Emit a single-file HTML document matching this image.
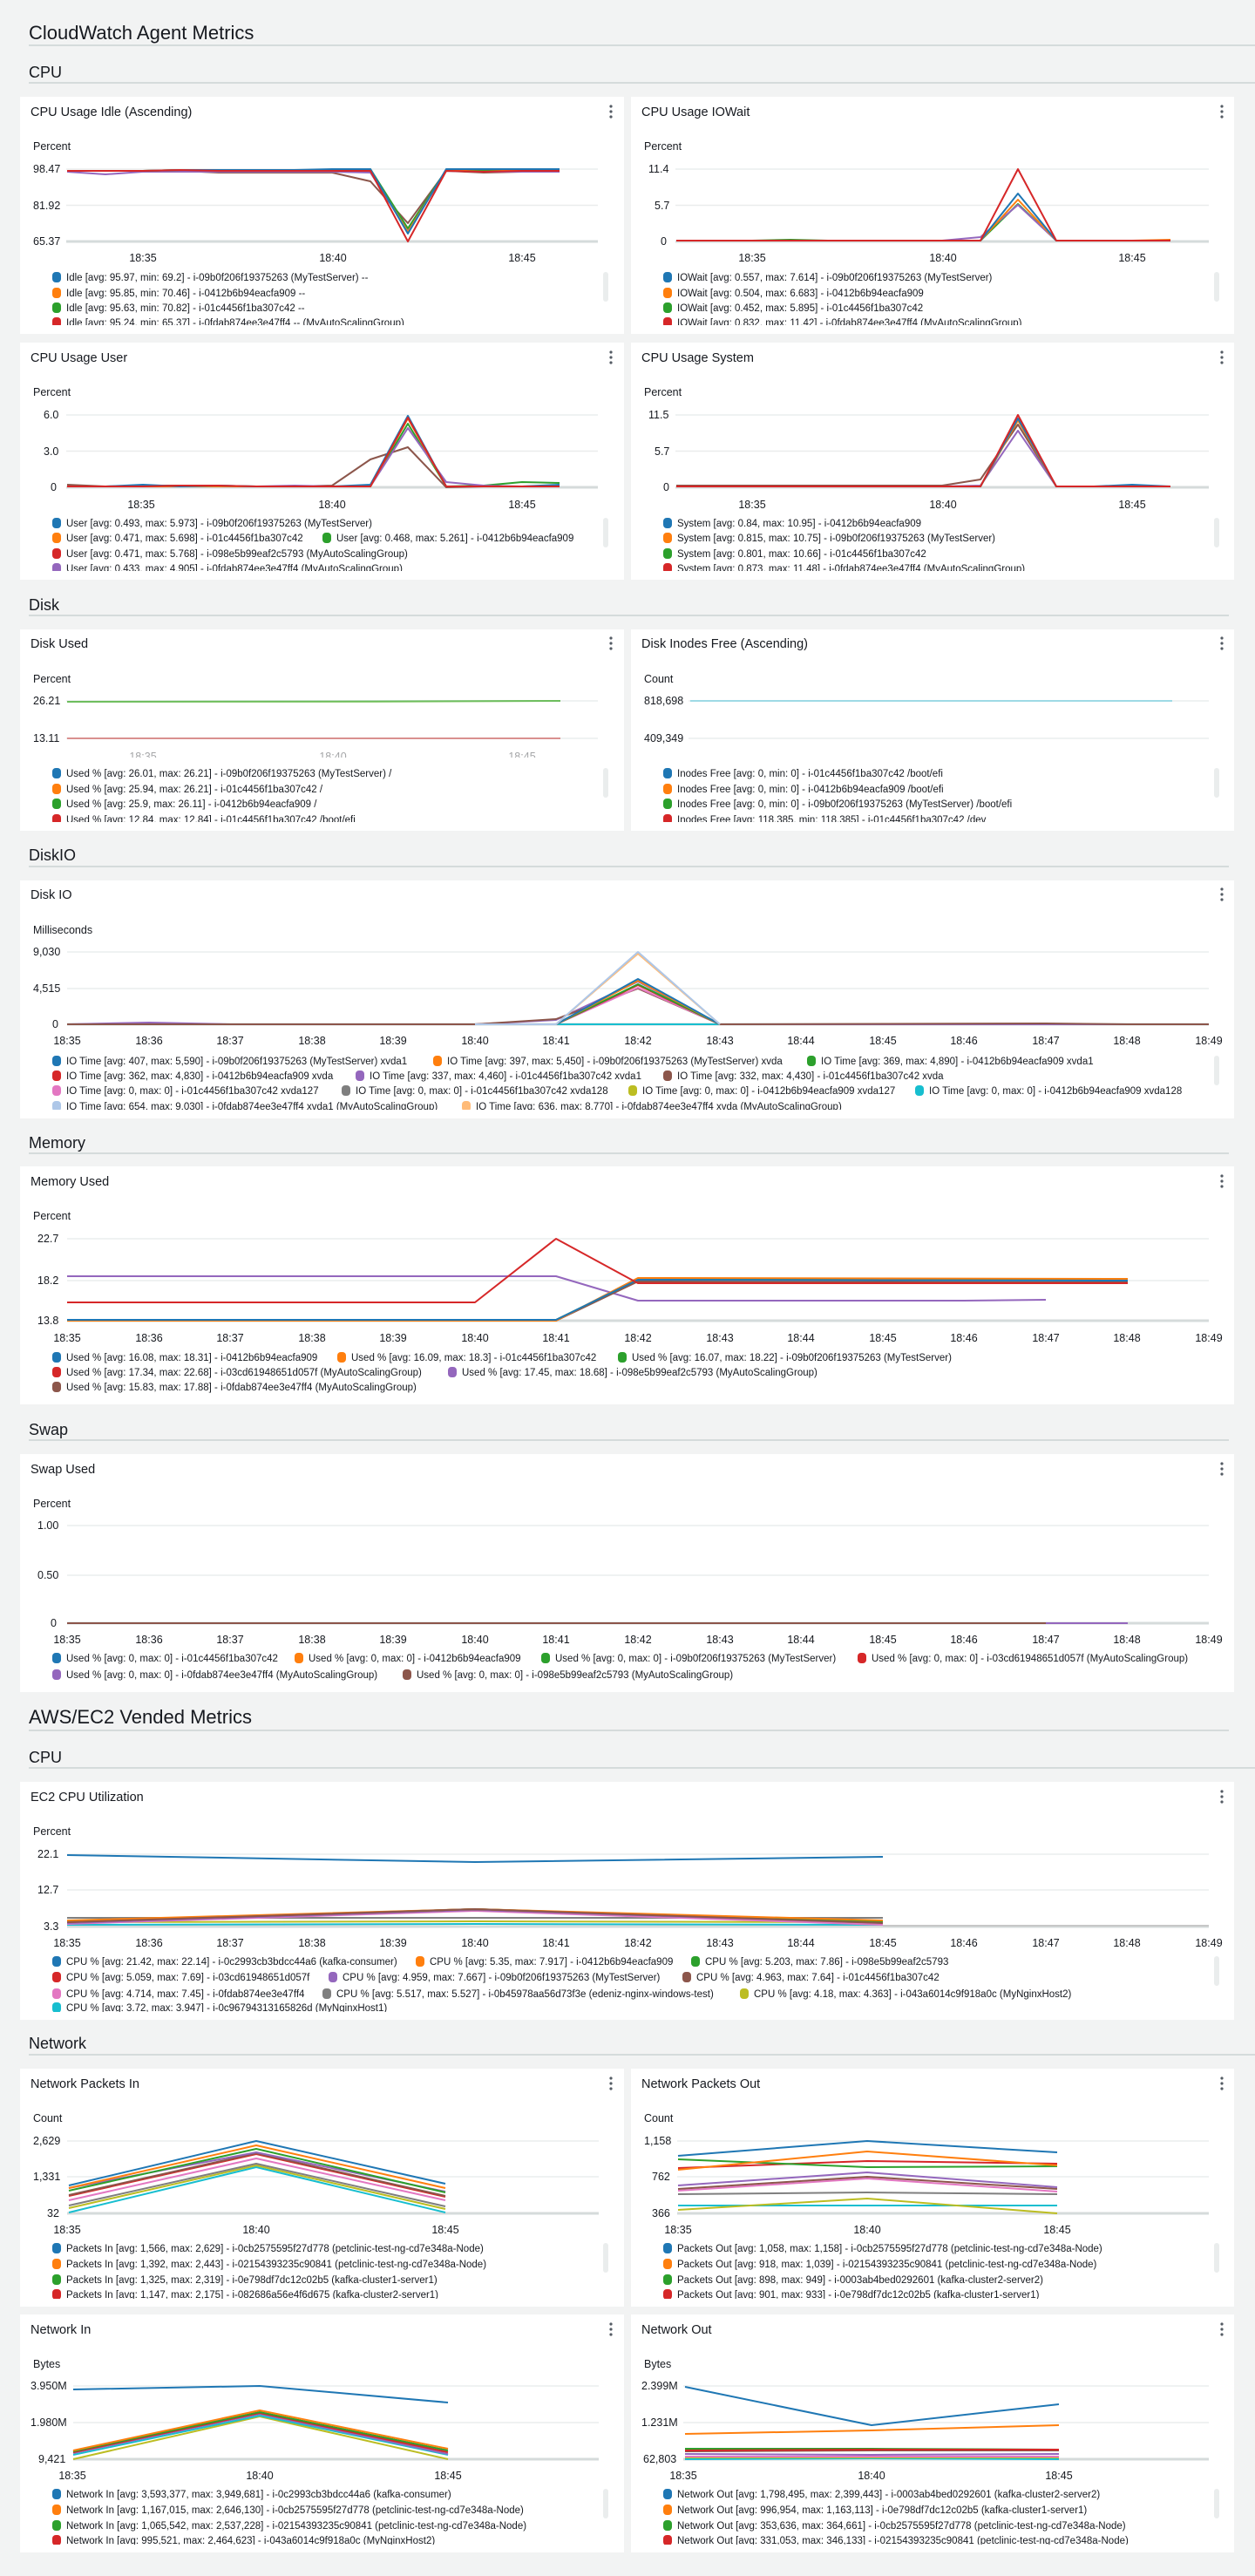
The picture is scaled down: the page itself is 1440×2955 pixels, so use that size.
<!DOCTYPE html>
<html><head><meta charset="utf-8"><style>
html,body{margin:0;padding:0;background:#f2f3f3;}
svg{display:block;font-family:"Liberation Sans",sans-serif;}
.h1{font-size:22px;fill:#16191f}
.h2{font-size:18px;fill:#16191f}
.pt{font-size:14.5px;fill:#16191f}
.u{font-size:12.5px;fill:#16191f}
.ax{font-size:12.5px;fill:#16191f}
.lg{font-size:11.5px;fill:#16191f}
.g{stroke:#eaeded;stroke-width:1.5}
.ba{stroke:#d5dbdb;stroke-width:3}
.sl{stroke:#d5dbdb;stroke-width:2}
polyline{fill:none;stroke-width:2;stroke-linejoin:round}
.dots{fill:#545b64}
</style></head><body>
<svg width="1440" height="2955" viewBox="0 0 1440 2955" xmlns="http://www.w3.org/2000/svg">
<rect width="1440" height="2955" fill="#f2f3f3"/>
<text x="33" y="45" class="h1">CloudWatch Agent Metrics</text><line x1="33" y1="52" x2="1440" y2="52" class="sl"/>
<text x="33" y="89" class="h2">CPU</text><line x1="33" y1="95" x2="1440" y2="95" class="sl"/>
<text x="33" y="700" class="h2">Disk</text><line x1="33" y1="706" x2="1410" y2="706" class="sl"/>
<text x="33" y="987" class="h2">DiskIO</text><line x1="33" y1="994" x2="1410" y2="994" class="sl"/>
<text x="33" y="1317" class="h2">Memory</text><line x1="33" y1="1323" x2="1410" y2="1323" class="sl"/>
<text x="33" y="1646" class="h2">Swap</text><line x1="33" y1="1652" x2="1410" y2="1652" class="sl"/>
<text x="33" y="1977" class="h1">AWS/EC2 Vended Metrics</text><line x1="33" y1="1985" x2="1410" y2="1985" class="sl"/>
<text x="33" y="2022" class="h2">CPU</text><line x1="33" y1="2028" x2="1440" y2="2028" class="sl"/>
<text x="33" y="2350" class="h2">Network</text><line x1="33" y1="2357" x2="1440" y2="2357" class="sl"/>

<svg x="23" y="111" width="693" height="272" viewBox="23 111 693 272">
<rect x="23" y="111" width="693" height="272" fill="#fff"/>
<text x="35" y="133" class="pt">CPU Usage Idle (Ascending)</text>
<circle cx="701" cy="122" r="1.6" class="dots"/><circle cx="701" cy="128" r="1.6" class="dots"/><circle cx="701" cy="134" r="1.6" class="dots"/>
<text x="38" y="172" class="u">Percent</text>
<line x1="76" y1="194" x2="686" y2="194" class="g"/><line x1="76" y1="235.5" x2="686" y2="235.5" class="g"/><line x1="76" y1="277" x2="686" y2="277" class="ba"/>
<text x="38" y="198" class="ax">98.47</text><text x="38" y="240" class="ax">81.92</text><text x="38" y="281" class="ax">65.37</text>
<text x="164" y="300" class="ax" text-anchor="middle">18:35</text><text x="382" y="300" class="ax" text-anchor="middle">18:40</text><text x="599" y="300" class="ax" text-anchor="middle">18:45</text>
<polyline stroke="#8c564b" points="77,196 121,196 164,196 207,196 251,198 294,198 338,198 381,198 425,208 468,256 512,196 555,198 599,197 642,196"/>
<polyline stroke="#9467bd" points="77,197 121,200 164,197 207,197 251,197 294,197 338,197 381,197 425,198 468,265 512,196 555,197 599,197 642,197"/>
<polyline stroke="#2ca02c" points="77,196 121,196 164,196 207,195 251,195 294,196 338,196 381,196 425,194 468,262 512,195 555,196 599,196 642,196"/>
<polyline stroke="#ff7f0e" points="77,196 121,196 164,196 207,195 251,195 294,196 338,196 381,196 425,196 468,266 512,195 555,194 599,195 642,195"/>
<polyline stroke="#1f77b4" points="77,196 121,196 164,196 207,195 251,195 294,195 338,195 381,194 425,194 468,268 512,194 555,194 599,194 642,194"/>
<polyline stroke="#d62728" points="77,196 121,196 164,196 207,195 251,196 294,196 338,196 381,196 425,196 468,277 512,196 555,197 599,196 642,196"/>
<rect x="692" y="312" width="6" height="34" rx="3" fill="#eaeded"/>
<rect x="60" y="312" width="10" height="12" rx="4" fill="#1f77b4"/><text x="76" y="322" class="lg">Idle [avg: 95.97, min: 69.2] - i-09b0f206f19375263 (MyTestServer) --</text>
<rect x="60" y="330" width="10" height="12" rx="4" fill="#ff7f0e"/><text x="76" y="340" class="lg">Idle [avg: 95.85, min: 70.46] - i-0412b6b94eacfa909 --</text>
<rect x="60" y="347" width="10" height="12" rx="4" fill="#2ca02c"/><text x="76" y="357" class="lg">Idle [avg: 95.63, min: 70.82] - i-01c4456f1ba307c42 --</text>
<rect x="60" y="364" width="10" height="12" rx="4" fill="#d62728"/><text x="76" y="374" class="lg">Idle [avg: 95.24, min: 65.37] - i-0fdab874ee3e47ff4 -- (MyAutoScalingGroup)</text>
<rect x="23" y="373" width="693" height="10" fill="#fff"/>
</svg>

<svg x="724" y="111" width="692" height="272" viewBox="724 111 692 272">
<rect x="724" y="111" width="692" height="272" fill="#fff"/>
<text x="736" y="133" class="pt">CPU Usage IOWait</text>
<circle cx="1402" cy="122" r="1.6" class="dots"/><circle cx="1402" cy="128" r="1.6" class="dots"/><circle cx="1402" cy="134" r="1.6" class="dots"/>
<text x="739" y="172" class="u">Percent</text>
<line x1="775" y1="194" x2="1387" y2="194" class="g"/><line x1="775" y1="235.5" x2="1387" y2="235.5" class="g"/><line x1="775" y1="277" x2="1387" y2="277" class="ba"/>
<text x="744" y="198" class="ax">11.4</text><text x="751" y="240" class="ax">5.7</text><text x="758" y="281" class="ax">0</text>
<text x="863" y="300" class="ax" text-anchor="middle">18:35</text><text x="1082" y="300" class="ax" text-anchor="middle">18:40</text><text x="1299" y="300" class="ax" text-anchor="middle">18:45</text>
<polyline stroke="#2ca02c" points="776,276 819,276 863,276 907,275 950,276 994,276 1037,276 1081,276 1125,276 1168,234 1212,276 1255,276 1299,276 1343,276"/>
<polyline stroke="#9467bd" points="776,276 819,276 863,276 907,276 950,276 994,276 1037,276 1081,276 1125,272 1168,235 1212,276 1255,276 1299,276 1343,276"/>
<polyline stroke="#ff7f0e" points="776,276 819,276 863,276 907,276 950,276 994,276 1037,276 1081,276 1125,276 1168,229 1212,276 1255,276 1299,276 1343,275"/>
<polyline stroke="#1f77b4" points="776,276 819,276 863,276 907,276 950,276 994,276 1037,276 1081,276 1125,276 1168,222 1212,276 1255,276 1299,276 1343,276"/>
<polyline stroke="#d62728" points="776,276 819,276 863,276 907,276 950,276 994,276 1037,276 1081,276 1125,276 1168,194 1212,276 1255,276 1299,276 1343,276"/>
<rect x="1393" y="312" width="6" height="34" rx="3" fill="#eaeded"/>
<rect x="761" y="312" width="10" height="12" rx="4" fill="#1f77b4"/><text x="777" y="322" class="lg">IOWait [avg: 0.557, max: 7.614] - i-09b0f206f19375263 (MyTestServer)</text>
<rect x="761" y="330" width="10" height="12" rx="4" fill="#ff7f0e"/><text x="777" y="340" class="lg">IOWait [avg: 0.504, max: 6.683] - i-0412b6b94eacfa909</text>
<rect x="761" y="347" width="10" height="12" rx="4" fill="#2ca02c"/><text x="777" y="357" class="lg">IOWait [avg: 0.452, max: 5.895] - i-01c4456f1ba307c42</text>
<rect x="761" y="364" width="10" height="12" rx="4" fill="#d62728"/><text x="777" y="374" class="lg">IOWait [avg: 0.832, max: 11.42] - i-0fdab874ee3e47ff4 (MyAutoScalingGroup)</text>
<rect x="724" y="373" width="692" height="10" fill="#fff"/>
</svg>

<svg x="23" y="393" width="693" height="272" viewBox="23 393 693 272">
<rect x="23" y="393" width="693" height="272" fill="#fff"/>
<text x="35" y="415" class="pt">CPU Usage User</text>
<circle cx="701" cy="404" r="1.6" class="dots"/><circle cx="701" cy="410" r="1.6" class="dots"/><circle cx="701" cy="416" r="1.6" class="dots"/>
<text x="38" y="454" class="u">Percent</text>
<line x1="76" y1="476" x2="686" y2="476" class="g"/><line x1="76" y1="517.5" x2="686" y2="517.5" class="g"/><line x1="76" y1="559" x2="686" y2="559" class="ba"/>
<text x="50" y="480" class="ax">6.0</text><text x="50" y="522" class="ax">3.0</text><text x="58" y="563" class="ax">0</text>
<text x="162" y="583" class="ax" text-anchor="middle">18:35</text><text x="381" y="583" class="ax" text-anchor="middle">18:40</text><text x="599" y="583" class="ax" text-anchor="middle">18:45</text>
<polyline stroke="#8c564b" points="77,556 121,558 164,557 207,557 251,557 294,558 338,558 381,557 425,527 468,513 512,559 555,558 599,558 642,558"/>
<polyline stroke="#2ca02c" points="77,558 121,558 164,558 207,558 251,558 294,558 338,558 381,558 425,558 468,486 512,558 555,557 599,553 642,554"/>
<polyline stroke="#9467bd" points="77,558 121,558 164,558 207,558 251,558 294,558 338,557 381,558 425,558 468,491 512,553 555,557 599,558 642,557"/>
<polyline stroke="#ff7f0e" points="77,558 121,558 164,558 207,558 251,558 294,558 338,558 381,558 425,558 468,480 512,558 555,558 599,558 642,558"/>
<polyline stroke="#1f77b4" points="77,558 121,558 164,556 207,558 251,557 294,558 338,558 381,558 425,556 468,477 512,558 555,558 599,558 642,556"/>
<polyline stroke="#d62728" points="77,558 121,558 164,558 207,557 251,557 294,558 338,558 381,558 425,558 468,479 512,558 555,558 599,558 642,558"/>
<rect x="692" y="594" width="6" height="34" rx="3" fill="#eaeded"/>
<rect x="60" y="594" width="10" height="12" rx="4" fill="#1f77b4"/><text x="76" y="604" class="lg">User [avg: 0.493, max: 5.973] - i-09b0f206f19375263 (MyTestServer)</text>
<rect x="60" y="611" width="10" height="12" rx="4" fill="#ff7f0e"/><text x="76" y="621" class="lg">User [avg: 0.471, max: 5.698] - i-01c4456f1ba307c42</text>
<rect x="370" y="611" width="10" height="12" rx="4" fill="#2ca02c"/><text x="386" y="621" class="lg">User [avg: 0.468, max: 5.261] - i-0412b6b94eacfa909</text>
<rect x="60" y="629" width="10" height="12" rx="4" fill="#d62728"/><text x="76" y="639" class="lg">User [avg: 0.471, max: 5.768] - i-098e5b99eaf2c5793 (MyAutoScalingGroup)</text>
<rect x="60" y="646" width="10" height="12" rx="4" fill="#9467bd"/><text x="76" y="656" class="lg">User [avg: 0.433, max: 4.905] - i-0fdab874ee3e47ff4 (MyAutoScalingGroup)</text>
<rect x="23" y="655" width="693" height="10" fill="#fff"/>
</svg>

<svg x="724" y="393" width="692" height="272" viewBox="724 393 692 272">
<rect x="724" y="393" width="692" height="272" fill="#fff"/>
<text x="736" y="415" class="pt">CPU Usage System</text>
<circle cx="1402" cy="404" r="1.6" class="dots"/><circle cx="1402" cy="410" r="1.6" class="dots"/><circle cx="1402" cy="416" r="1.6" class="dots"/>
<text x="739" y="454" class="u">Percent</text>
<line x1="775" y1="476" x2="1387" y2="476" class="g"/><line x1="775" y1="517.5" x2="1387" y2="517.5" class="g"/><line x1="775" y1="559" x2="1387" y2="559" class="ba"/>
<text x="744" y="480" class="ax">11.5</text><text x="751" y="522" class="ax">5.7</text><text x="761" y="563" class="ax">0</text>
<text x="863" y="583" class="ax" text-anchor="middle">18:35</text><text x="1082" y="583" class="ax" text-anchor="middle">18:40</text><text x="1299" y="583" class="ax" text-anchor="middle">18:45</text>
<polyline stroke="#8c564b" points="776,557 819,557 863,557 907,557 950,557 994,557 1037,557 1081,557 1125,550 1168,487 1212,558 1255,558 1299,558 1343,558"/>
<polyline stroke="#9467bd" points="776,558 819,558 863,558 907,558 950,558 994,558 1037,558 1081,558 1125,557 1168,494 1212,558 1255,558 1299,558 1343,558"/>
<polyline stroke="#2ca02c" points="776,558 819,558 863,558 907,558 950,558 994,558 1037,558 1081,558 1125,558 1168,482 1212,558 1255,558 1299,558 1343,558"/>
<polyline stroke="#ff7f0e" points="776,558 819,558 863,558 907,558 950,558 994,558 1037,558 1081,558 1125,558 1168,482 1212,558 1255,558 1299,558 1343,558"/>
<polyline stroke="#1f77b4" points="776,558 819,558 863,558 907,558 950,558 994,558 1037,558 1081,558 1125,558 1168,480 1212,558 1255,558 1299,556 1343,558"/>
<polyline stroke="#d62728" points="776,558 819,558 863,558 907,558 950,558 994,558 1037,558 1081,558 1125,558 1168,476 1212,558 1255,558 1299,558 1343,558"/>
<rect x="1393" y="594" width="6" height="34" rx="3" fill="#eaeded"/>
<rect x="761" y="594" width="10" height="12" rx="4" fill="#1f77b4"/><text x="777" y="604" class="lg">System [avg: 0.84, max: 10.95] - i-0412b6b94eacfa909</text>
<rect x="761" y="611" width="10" height="12" rx="4" fill="#ff7f0e"/><text x="777" y="621" class="lg">System [avg: 0.815, max: 10.75] - i-09b0f206f19375263 (MyTestServer)</text>
<rect x="761" y="629" width="10" height="12" rx="4" fill="#2ca02c"/><text x="777" y="639" class="lg">System [avg: 0.801, max: 10.66] - i-01c4456f1ba307c42</text>
<rect x="761" y="646" width="10" height="12" rx="4" fill="#d62728"/><text x="777" y="656" class="lg">System [avg: 0.873, max: 11.48] - i-0fdab874ee3e47ff4 (MyAutoScalingGroup)</text>
<rect x="724" y="655" width="692" height="10" fill="#fff"/>
</svg>

<svg x="23" y="722" width="693" height="231" viewBox="23 722 693 231">
<rect x="23" y="722" width="693" height="231" fill="#fff"/>
<text x="35" y="743" class="pt">Disk Used</text>
<circle cx="701" cy="732" r="1.6" class="dots"/><circle cx="701" cy="738" r="1.6" class="dots"/><circle cx="701" cy="744" r="1.6" class="dots"/>
<text x="38" y="783" class="u">Percent</text>
<line x1="76" y1="804" x2="686" y2="804" class="g"/><line x1="76" y1="847" x2="686" y2="847" class="g"/>
<text x="38" y="808" class="ax">26.21</text><text x="38" y="851" class="ax">13.11</text>
<polyline stroke="#aedb8f" points="77,805 430,805 643,804"/>
<polyline stroke="#2ca02c" stroke-opacity="0.5" points="77,805 643,804"/>
<polyline stroke="#d9908f" points="77,847 643,847"/>
<text x="164" y="872" class="ax" text-anchor="middle" fill-opacity="0.4">18:35</text><text x="382" y="872" class="ax" text-anchor="middle" fill-opacity="0.4">18:40</text><text x="599" y="872" class="ax" text-anchor="middle" fill-opacity="0.4">18:45</text>
<rect x="23" y="869" width="693" height="12" fill="#fff"/>
<rect x="692" y="881" width="6" height="34" rx="3" fill="#eaeded"/>
<rect x="60" y="881" width="10" height="12" rx="4" fill="#1f77b4"/><text x="76" y="891" class="lg">Used % [avg: 26.01, max: 26.21] - i-09b0f206f19375263 (MyTestServer) /</text>
<rect x="60" y="899" width="10" height="12" rx="4" fill="#ff7f0e"/><text x="76" y="909" class="lg">Used % [avg: 25.94, max: 26.21] - i-01c4456f1ba307c42 /</text>
<rect x="60" y="916" width="10" height="12" rx="4" fill="#2ca02c"/><text x="76" y="926" class="lg">Used % [avg: 25.9, max: 26.11] - i-0412b6b94eacfa909 /</text>
<rect x="60" y="934" width="10" height="12" rx="4" fill="#d62728"/><text x="76" y="944" class="lg">Used % [avg: 12.84, max: 12.84] - i-01c4456f1ba307c42 /boot/efi</text>
<rect x="23" y="943" width="693" height="10" fill="#fff"/>
</svg>

<svg x="724" y="722" width="692" height="231" viewBox="724 722 692 231">
<rect x="724" y="722" width="692" height="231" fill="#fff"/>
<text x="736" y="743" class="pt">Disk Inodes Free (Ascending)</text>
<circle cx="1402" cy="732" r="1.6" class="dots"/><circle cx="1402" cy="738" r="1.6" class="dots"/><circle cx="1402" cy="744" r="1.6" class="dots"/>
<text x="739" y="783" class="u">Count</text>
<line x1="790" y1="804" x2="1387" y2="804" class="g"/><line x1="790" y1="847" x2="1387" y2="847" class="g"/>
<text x="739" y="808" class="ax">818,698</text><text x="739" y="851" class="ax">409,349</text>
<polyline stroke="#9edae5" stroke-width="3" points="792,804 1345,804"/>
<rect x="1393" y="881" width="6" height="34" rx="3" fill="#eaeded"/>
<rect x="761" y="881" width="10" height="12" rx="4" fill="#1f77b4"/><text x="777" y="891" class="lg">Inodes Free [avg: 0, min: 0] - i-01c4456f1ba307c42 /boot/efi</text>
<rect x="761" y="899" width="10" height="12" rx="4" fill="#ff7f0e"/><text x="777" y="909" class="lg">Inodes Free [avg: 0, min: 0] - i-0412b6b94eacfa909 /boot/efi</text>
<rect x="761" y="916" width="10" height="12" rx="4" fill="#2ca02c"/><text x="777" y="926" class="lg">Inodes Free [avg: 0, min: 0] - i-09b0f206f19375263 (MyTestServer) /boot/efi</text>
<rect x="761" y="934" width="10" height="12" rx="4" fill="#d62728"/><text x="777" y="944" class="lg">Inodes Free [avg: 118,385, min: 118,385] - i-01c4456f1ba307c42 /dev</text>
<rect x="724" y="943" width="692" height="10" fill="#fff"/>
</svg>

<svg x="23" y="1010" width="1393" height="273" viewBox="23 1010 1393 273">
<rect x="23" y="1010" width="1393" height="273" fill="#fff"/>
<text x="35" y="1031" class="pt">Disk IO</text>
<circle cx="1402" cy="1020" r="1.6" class="dots"/><circle cx="1402" cy="1026" r="1.6" class="dots"/><circle cx="1402" cy="1032" r="1.6" class="dots"/>
<text x="38" y="1071" class="u">Milliseconds</text>
<line x1="77" y1="1092" x2="1387" y2="1092" class="g"/><line x1="77" y1="1134" x2="1387" y2="1134" class="g"/><line x1="77" y1="1175" x2="1387" y2="1175" class="ba"/>
<text x="38" y="1096" class="ax">9,030</text><text x="38" y="1138" class="ax">4,515</text><text x="60" y="1179" class="ax">0</text>
<g class="ax" text-anchor="middle">
<text x="77" y="1198">18:35</text><text x="171" y="1198">18:36</text><text x="264" y="1198">18:37</text><text x="358" y="1198">18:38</text><text x="451" y="1198">18:39</text><text x="545" y="1198">18:40</text><text x="638" y="1198">18:41</text><text x="732" y="1198">18:42</text><text x="826" y="1198">18:43</text><text x="919" y="1198">18:44</text><text x="1013" y="1198">18:45</text><text x="1106" y="1198">18:46</text><text x="1200" y="1198">18:47</text><text x="1293" y="1198">18:48</text><text x="1387" y="1198">18:49</text>
</g>
<polyline stroke="#17becf" points="77,1175 1294,1175"/>
<polyline stroke="#9467bd" points="77,1175 171,1173 264,1175 545,1175 638,1170 732,1126 826,1175 1294,1175"/>
<polyline stroke="#8c564b" points="77,1175 545,1175 638,1169 732,1134 826,1175 1200,1174 1294,1175 1387,1175"/>
<polyline stroke="#e377c2" points="545,1175 638,1175 732,1133 826,1175"/>
<polyline stroke="#d62728" points="545,1175 638,1175 732,1130 826,1175"/>
<polyline stroke="#2ca02c" points="545,1175 638,1175 732,1129 826,1175"/>
<polyline stroke="#ff7f0e" points="545,1175 638,1175 732,1125 826,1175"/>
<polyline stroke="#1f77b4" points="545,1175 638,1175 732,1123 826,1175"/>
<polyline stroke="#ffbb78" points="545,1175 638,1175 732,1094 826,1175"/>
<polyline stroke="#aec7e8" points="545,1175 638,1175 732,1092 826,1175"/>
<rect x="1393" y="1211" width="6" height="34" rx="3" fill="#eaeded"/>
<rect x="60" y="1211" width="10" height="12" rx="4" fill="#1f77b4"/><text x="76" y="1221" class="lg">IO Time [avg: 407, max: 5,590] - i-09b0f206f19375263 (MyTestServer) xvda1</text>
<rect x="497" y="1211" width="10" height="12" rx="4" fill="#ff7f0e"/><text x="513" y="1221" class="lg">IO Time [avg: 397, max: 5,450] - i-09b0f206f19375263 (MyTestServer) xvda</text>
<rect x="926" y="1211" width="10" height="12" rx="4" fill="#2ca02c"/><text x="942" y="1221" class="lg">IO Time [avg: 369, max: 4,890] - i-0412b6b94eacfa909 xvda1</text>
<rect x="60" y="1228" width="10" height="12" rx="4" fill="#d62728"/><text x="76" y="1238" class="lg">IO Time [avg: 362, max: 4,830] - i-0412b6b94eacfa909 xvda</text>
<rect x="408" y="1228" width="10" height="12" rx="4" fill="#9467bd"/><text x="424" y="1238" class="lg">IO Time [avg: 337, max: 4,460] - i-01c4456f1ba307c42 xvda1</text>
<rect x="761" y="1228" width="10" height="12" rx="4" fill="#8c564b"/><text x="777" y="1238" class="lg">IO Time [avg: 332, max: 4,430] - i-01c4456f1ba307c42 xvda</text>
<rect x="60" y="1245" width="10" height="12" rx="4" fill="#e377c2"/><text x="76" y="1255" class="lg">IO Time [avg: 0, max: 0] - i-01c4456f1ba307c42 xvda127</text>
<rect x="392" y="1245" width="10" height="12" rx="4" fill="#7f7f7f"/><text x="408" y="1255" class="lg">IO Time [avg: 0, max: 0] - i-01c4456f1ba307c42 xvda128</text>
<rect x="721" y="1245" width="10" height="12" rx="4" fill="#bcbd22"/><text x="737" y="1255" class="lg">IO Time [avg: 0, max: 0] - i-0412b6b94eacfa909 xvda127</text>
<rect x="1050" y="1245" width="10" height="12" rx="4" fill="#17becf"/><text x="1066" y="1255" class="lg">IO Time [avg: 0, max: 0] - i-0412b6b94eacfa909 xvda128</text>
<rect x="60" y="1263" width="10" height="12" rx="4" fill="#aec7e8"/><text x="76" y="1273" class="lg">IO Time [avg: 654, max: 9,030] - i-0fdab874ee3e47ff4 xvda1 (MyAutoScalingGroup)</text>
<rect x="530" y="1263" width="10" height="12" rx="4" fill="#ffbb78"/><text x="546" y="1273" class="lg">IO Time [avg: 636, max: 8,770] - i-0fdab874ee3e47ff4 xvda (MyAutoScalingGroup)</text>
<rect x="23" y="1273" width="1393" height="10" fill="#fff"/>
</svg>

<svg x="23" y="1338" width="1393" height="273" viewBox="23 1338 1393 273">
<rect x="23" y="1338" width="1393" height="273" fill="#fff"/>
<text x="35" y="1360" class="pt">Memory Used</text>
<circle cx="1402" cy="1349" r="1.6" class="dots"/><circle cx="1402" cy="1355" r="1.6" class="dots"/><circle cx="1402" cy="1361" r="1.6" class="dots"/>
<text x="38" y="1399" class="u">Percent</text>
<line x1="77" y1="1421" x2="1387" y2="1421" class="g"/><line x1="77" y1="1469" x2="1387" y2="1469" class="g"/><line x1="77" y1="1515" x2="1387" y2="1515" class="ba"/>
<text x="43" y="1425" class="ax">22.7</text><text x="43" y="1473" class="ax">18.2</text><text x="43" y="1519" class="ax">13.8</text>
<g class="ax" text-anchor="middle">
<text x="77" y="1539">18:35</text><text x="171" y="1539">18:36</text><text x="264" y="1539">18:37</text><text x="358" y="1539">18:38</text><text x="451" y="1539">18:39</text><text x="545" y="1539">18:40</text><text x="638" y="1539">18:41</text><text x="732" y="1539">18:42</text><text x="826" y="1539">18:43</text><text x="919" y="1539">18:44</text><text x="1013" y="1539">18:45</text><text x="1106" y="1539">18:46</text><text x="1200" y="1539">18:47</text><text x="1293" y="1539">18:48</text><text x="1387" y="1539">18:49</text>
</g>
<polyline stroke="#9467bd" points="77,1464 638,1464 732,1492 1106,1492 1200,1491"/>
<polyline stroke="#8c564b" points="77,1515 638,1515 732,1470 1294,1471"/>
<polyline stroke="#2ca02c" points="77,1514 638,1514 732,1468 1294,1468"/>
<polyline stroke="#ff7f0e" points="77,1515 638,1515 732,1466 1294,1467"/>
<polyline stroke="#1f77b4" points="77,1514 638,1514 732,1468 1294,1469"/>
<polyline stroke="#d62728" points="77,1494 545,1494 638,1421 732,1472 1294,1472"/>
<rect x="60" y="1551" width="10" height="12" rx="4" fill="#1f77b4"/><text x="76" y="1561" class="lg">Used % [avg: 16.08, max: 18.31] - i-0412b6b94eacfa909</text>
<rect x="387" y="1551" width="10" height="12" rx="4" fill="#ff7f0e"/><text x="403" y="1561" class="lg">Used % [avg: 16.09, max: 18.3] - i-01c4456f1ba307c42</text>
<rect x="709" y="1551" width="10" height="12" rx="4" fill="#2ca02c"/><text x="725" y="1561" class="lg">Used % [avg: 16.07, max: 18.22] - i-09b0f206f19375263 (MyTestServer)</text>
<rect x="60" y="1568" width="10" height="12" rx="4" fill="#d62728"/><text x="76" y="1578" class="lg">Used % [avg: 17.34, max: 22.68] - i-03cd61948651d057f (MyAutoScalingGroup)</text>
<rect x="514" y="1568" width="10" height="12" rx="4" fill="#9467bd"/><text x="530" y="1578" class="lg">Used % [avg: 17.45, max: 18.68] - i-098e5b99eaf2c5793 (MyAutoScalingGroup)</text>
<rect x="60" y="1585" width="10" height="12" rx="4" fill="#8c564b"/><text x="76" y="1595" class="lg">Used % [avg: 15.83, max: 17.88] - i-0fdab874ee3e47ff4 (MyAutoScalingGroup)</text>
</svg>

<svg x="23" y="1668" width="1393" height="273" viewBox="23 1668 1393 273">
<rect x="23" y="1668" width="1393" height="273" fill="#fff"/>
<text x="35" y="1690" class="pt">Swap Used</text>
<circle cx="1402" cy="1679" r="1.6" class="dots"/><circle cx="1402" cy="1685" r="1.6" class="dots"/><circle cx="1402" cy="1691" r="1.6" class="dots"/>
<text x="38" y="1729" class="u">Percent</text>
<line x1="77" y1="1750" x2="1387" y2="1750" class="g"/><line x1="77" y1="1807" x2="1387" y2="1807" class="g"/><line x1="77" y1="1862" x2="1387" y2="1862" class="ba"/>
<text x="43" y="1754" class="ax">1.00</text><text x="43" y="1811" class="ax">0.50</text><text x="58" y="1866" class="ax">0</text>
<g class="ax" text-anchor="middle">
<text x="77" y="1885">18:35</text><text x="171" y="1885">18:36</text><text x="264" y="1885">18:37</text><text x="358" y="1885">18:38</text><text x="451" y="1885">18:39</text><text x="545" y="1885">18:40</text><text x="638" y="1885">18:41</text><text x="732" y="1885">18:42</text><text x="826" y="1885">18:43</text><text x="919" y="1885">18:44</text><text x="1013" y="1885">18:45</text><text x="1106" y="1885">18:46</text><text x="1200" y="1885">18:47</text><text x="1293" y="1885">18:48</text><text x="1387" y="1885">18:49</text>
</g>
<polyline stroke="#9467bd" points="1200,1862 1294,1862"/>
<polyline stroke="#8c564b" points="77,1862 1200,1862"/>
<rect x="60" y="1896" width="10" height="12" rx="4" fill="#1f77b4"/><text x="76" y="1906" class="lg">Used % [avg: 0, max: 0] - i-01c4456f1ba307c42</text>
<rect x="338" y="1896" width="10" height="12" rx="4" fill="#ff7f0e"/><text x="354" y="1906" class="lg">Used % [avg: 0, max: 0] - i-0412b6b94eacfa909</text>
<rect x="621" y="1896" width="10" height="12" rx="4" fill="#2ca02c"/><text x="637" y="1906" class="lg">Used % [avg: 0, max: 0] - i-09b0f206f19375263 (MyTestServer)</text>
<rect x="984" y="1896" width="10" height="12" rx="4" fill="#d62728"/><text x="1000" y="1906" class="lg">Used % [avg: 0, max: 0] - i-03cd61948651d057f (MyAutoScalingGroup)</text>
<rect x="60" y="1915" width="10" height="12" rx="4" fill="#9467bd"/><text x="76" y="1925" class="lg">Used % [avg: 0, max: 0] - i-0fdab874ee3e47ff4 (MyAutoScalingGroup)</text>
<rect x="462" y="1915" width="10" height="12" rx="4" fill="#8c564b"/><text x="478" y="1925" class="lg">Used % [avg: 0, max: 0] - i-098e5b99eaf2c5793 (MyAutoScalingGroup)</text>
</svg>

<svg x="23" y="2044" width="1393" height="273" viewBox="23 2044 1393 273">
<rect x="23" y="2044" width="1393" height="273" fill="#fff"/>
<text x="35" y="2066" class="pt">EC2 CPU Utilization</text>
<circle cx="1402" cy="2055" r="1.6" class="dots"/><circle cx="1402" cy="2061" r="1.6" class="dots"/><circle cx="1402" cy="2067" r="1.6" class="dots"/>
<text x="38" y="2105" class="u">Percent</text>
<line x1="77" y1="2127" x2="1387" y2="2127" class="g"/><line x1="77" y1="2168" x2="1387" y2="2168" class="g"/><line x1="77" y1="2210" x2="1387" y2="2210" class="ba"/>
<text x="43" y="2131" class="ax">22.1</text><text x="43" y="2172" class="ax">12.7</text><text x="50" y="2214" class="ax">3.3</text>
<g class="ax" text-anchor="middle">
<text x="77" y="2233">18:35</text><text x="171" y="2233">18:36</text><text x="264" y="2233">18:37</text><text x="358" y="2233">18:38</text><text x="451" y="2233">18:39</text><text x="545" y="2233">18:40</text><text x="638" y="2233">18:41</text><text x="732" y="2233">18:42</text><text x="826" y="2233">18:43</text><text x="919" y="2233">18:44</text><text x="1013" y="2233">18:45</text><text x="1106" y="2233">18:46</text><text x="1200" y="2233">18:47</text><text x="1293" y="2233">18:48</text><text x="1387" y="2233">18:49</text>
</g>
<polyline stroke="#c7c7c7" stroke-width="3" points="1013,2209 1387,2209"/>
<polyline stroke="#17becf" points="77,2208 545,2207 1013,2208"/>
<polyline stroke="#bcbd22" stroke-width="3" points="77,2205 545,2204 1013,2205"/>
<polyline stroke="#7f7f7f" points="77,2200 1013,2200"/>
<polyline stroke="#e377c2" points="77,2207 545,2192 1013,2208"/>
<polyline stroke="#9467bd" points="77,2206 545,2191 1013,2206"/>
<polyline stroke="#d62728" points="77,2205 545,2190 1013,2205"/>
<polyline stroke="#2ca02c" points="77,2204 545,2190 1013,2204"/>
<polyline stroke="#ff7f0e" points="77,2203 545,2190 1013,2203"/>
<polyline stroke="#8c564b" points="77,2205 545,2190 1013,2206"/>
<polyline stroke="#1f77b4" points="77,2128 545,2136 1013,2130"/>
<rect x="1393" y="2244" width="6" height="34" rx="3" fill="#eaeded"/>
<rect x="60" y="2244" width="10" height="12" rx="4" fill="#1f77b4"/><text x="76" y="2254" class="lg">CPU % [avg: 21.42, max: 22.14] - i-0c2993cb3bdcc44a6 (kafka-consumer)</text>
<rect x="477" y="2244" width="10" height="12" rx="4" fill="#ff7f0e"/><text x="493" y="2254" class="lg">CPU % [avg: 5.35, max: 7.917] - i-0412b6b94eacfa909</text>
<rect x="793" y="2244" width="10" height="12" rx="4" fill="#2ca02c"/><text x="809" y="2254" class="lg">CPU % [avg: 5.203, max: 7.86] - i-098e5b99eaf2c5793</text>
<rect x="60" y="2262" width="10" height="12" rx="4" fill="#d62728"/><text x="76" y="2272" class="lg">CPU % [avg: 5.059, max: 7.69] - i-03cd61948651d057f</text>
<rect x="377" y="2262" width="10" height="12" rx="4" fill="#9467bd"/><text x="393" y="2272" class="lg">CPU % [avg: 4.959, max: 7.667] - i-09b0f206f19375263 (MyTestServer)</text>
<rect x="783" y="2262" width="10" height="12" rx="4" fill="#8c564b"/><text x="799" y="2272" class="lg">CPU % [avg: 4.963, max: 7.64] - i-01c4456f1ba307c42</text>
<rect x="60" y="2281" width="10" height="12" rx="4" fill="#e377c2"/><text x="76" y="2291" class="lg">CPU % [avg: 4.714, max: 7.45] - i-0fdab874ee3e47ff4</text>
<rect x="370" y="2281" width="10" height="12" rx="4" fill="#7f7f7f"/><text x="386" y="2291" class="lg">CPU % [avg: 5.517, max: 5.527] - i-0b45978aa56d73f3e (edeniz-nginx-windows-test)</text>
<rect x="849" y="2281" width="10" height="12" rx="4" fill="#bcbd22"/><text x="865" y="2291" class="lg">CPU % [avg: 4.18, max: 4.363] - i-043a6014c9f918a0c (MyNginxHost2)</text>
<rect x="60" y="2297" width="10" height="12" rx="4" fill="#17becf"/><text x="76" y="2307" class="lg">CPU % [avg: 3.72, max: 3.947] - i-0c96794313165826d (MyNginxHost1)</text>
<rect x="23" y="2308" width="1393" height="9" fill="#fff"/>
</svg>

<svg x="23" y="2373" width="693" height="273" viewBox="23 2373 693 273">
<rect x="23" y="2373" width="693" height="273" fill="#fff"/>
<text x="35" y="2395" class="pt">Network Packets In</text>
<circle cx="701" cy="2384" r="1.6" class="dots"/><circle cx="701" cy="2390" r="1.6" class="dots"/><circle cx="701" cy="2396" r="1.6" class="dots"/>
<text x="38" y="2434" class="u">Count</text>
<line x1="77" y1="2456" x2="687" y2="2456" class="g"/><line x1="77" y1="2497" x2="687" y2="2497" class="g"/><line x1="77" y1="2539" x2="687" y2="2539" class="ba"/>
<text x="38" y="2460" class="ax">2,629</text><text x="38" y="2501" class="ax">1,331</text><text x="54" y="2543" class="ax">32</text>
<text x="77" y="2562" class="ax" text-anchor="middle">18:35</text><text x="294" y="2562" class="ax" text-anchor="middle">18:40</text><text x="511" y="2562" class="ax" text-anchor="middle">18:45</text>
<polyline stroke="#17becf" points="79,2538 294,2486 511,2538"/>
<polyline stroke="#bcbd22" points="79,2533 294,2484 511,2534"/>
<polyline stroke="#7f7f7f" points="79,2530 294,2482 511,2531"/>
<polyline stroke="#e377c2" points="79,2524 294,2476 511,2524"/>
<polyline stroke="#d62728" points="79,2519 294,2471 511,2520"/>
<polyline stroke="#8c564b" points="79,2518 294,2470 511,2519"/>
<polyline stroke="#9467bd" points="79,2510 294,2469 511,2514"/>
<polyline stroke="#2ca02c" points="79,2513 294,2465 511,2515"/>
<polyline stroke="#ff7f0e" points="79,2510 294,2461 511,2510"/>
<polyline stroke="#1f77b4" points="79,2507 294,2456 511,2505"/>
<rect x="692" y="2573" width="6" height="34" rx="3" fill="#eaeded"/>
<rect x="60" y="2573" width="10" height="12" rx="4" fill="#1f77b4"/><text x="76" y="2583" class="lg">Packets In [avg: 1,566, max: 2,629] - i-0cb2575595f27d778 (petclinic-test-ng-cd7e348a-Node)</text>
<rect x="60" y="2591" width="10" height="12" rx="4" fill="#ff7f0e"/><text x="76" y="2601" class="lg">Packets In [avg: 1,392, max: 2,443] - i-02154393235c90841 (petclinic-test-ng-cd7e348a-Node)</text>
<rect x="60" y="2609" width="10" height="12" rx="4" fill="#2ca02c"/><text x="76" y="2619" class="lg">Packets In [avg: 1,325, max: 2,319] - i-0e798df7dc12c02b5 (kafka-cluster1-server1)</text>
<rect x="60" y="2626" width="10" height="12" rx="4" fill="#d62728"/><text x="76" y="2636" class="lg">Packets In [avg: 1,147, max: 2,175] - i-082686a56e4f6d675 (kafka-cluster2-server1)</text>
<rect x="23" y="2637" width="693" height="9" fill="#fff"/>
</svg>

<svg x="724" y="2373" width="692" height="273" viewBox="724 2373 692 273">
<rect x="724" y="2373" width="692" height="273" fill="#fff"/>
<text x="736" y="2395" class="pt">Network Packets Out</text>
<circle cx="1402" cy="2384" r="1.6" class="dots"/><circle cx="1402" cy="2390" r="1.6" class="dots"/><circle cx="1402" cy="2396" r="1.6" class="dots"/>
<text x="739" y="2434" class="u">Count</text>
<line x1="777" y1="2456" x2="1387" y2="2456" class="g"/><line x1="777" y1="2497" x2="1387" y2="2497" class="g"/><line x1="777" y1="2539" x2="1387" y2="2539" class="ba"/>
<text x="739" y="2460" class="ax">1,158</text><text x="748" y="2501" class="ax">762</text><text x="748" y="2543" class="ax">366</text>
<text x="778" y="2562" class="ax" text-anchor="middle">18:35</text><text x="995" y="2562" class="ax" text-anchor="middle">18:40</text><text x="1213" y="2562" class="ax" text-anchor="middle">18:45</text>
<polyline stroke="#17becf" points="778,2530 995,2530 1213,2530"/>
<polyline stroke="#bcbd22" points="778,2535 995,2522 1213,2539"/>
<polyline stroke="#7f7f7f" points="778,2517 995,2515 1213,2517"/>
<polyline stroke="#e377c2" points="778,2513 995,2499 1213,2514"/>
<polyline stroke="#8c564b" points="778,2511 995,2497 1213,2511"/>
<polyline stroke="#9467bd" points="778,2507 995,2492 1213,2509"/>
<polyline stroke="#d62728" points="778,2487 995,2479 1213,2482"/>
<polyline stroke="#2ca02c" points="778,2477 995,2486 1213,2485"/>
<polyline stroke="#ff7f0e" points="778,2489 995,2468 1213,2484"/>
<polyline stroke="#1f77b4" points="778,2473 995,2456 1213,2469"/>
<rect x="1393" y="2573" width="6" height="34" rx="3" fill="#eaeded"/>
<rect x="761" y="2573" width="10" height="12" rx="4" fill="#1f77b4"/><text x="777" y="2583" class="lg">Packets Out [avg: 1,058, max: 1,158] - i-0cb2575595f27d778 (petclinic-test-ng-cd7e348a-Node)</text>
<rect x="761" y="2591" width="10" height="12" rx="4" fill="#ff7f0e"/><text x="777" y="2601" class="lg">Packets Out [avg: 918, max: 1,039] - i-02154393235c90841 (petclinic-test-ng-cd7e348a-Node)</text>
<rect x="761" y="2609" width="10" height="12" rx="4" fill="#2ca02c"/><text x="777" y="2619" class="lg">Packets Out [avg: 898, max: 949] - i-0003ab4bed0292601 (kafka-cluster2-server2)</text>
<rect x="761" y="2626" width="10" height="12" rx="4" fill="#d62728"/><text x="777" y="2636" class="lg">Packets Out [avg: 901, max: 933] - i-0e798df7dc12c02b5 (kafka-cluster1-server1)</text>
<rect x="724" y="2637" width="692" height="9" fill="#fff"/>
</svg>

<svg x="23" y="2655" width="693" height="273" viewBox="23 2655 693 273">
<rect x="23" y="2655" width="693" height="273" fill="#fff"/>
<text x="35" y="2677" class="pt">Network In</text>
<circle cx="701" cy="2666" r="1.6" class="dots"/><circle cx="701" cy="2672" r="1.6" class="dots"/><circle cx="701" cy="2678" r="1.6" class="dots"/>
<text x="38" y="2716" class="u">Bytes</text>
<line x1="84" y1="2737" x2="687" y2="2737" class="g"/><line x1="84" y1="2779" x2="687" y2="2779" class="g"/><line x1="84" y1="2821" x2="687" y2="2821" class="ba"/>
<text x="35" y="2741" class="ax">3.950M</text><text x="35" y="2783" class="ax">1.980M</text><text x="44" y="2825" class="ax">9,421</text>
<text x="83" y="2844" class="ax" text-anchor="middle">18:35</text><text x="298" y="2844" class="ax" text-anchor="middle">18:40</text><text x="514" y="2844" class="ax" text-anchor="middle">18:45</text>
<polyline stroke="#bcbd22" points="84,2821 298,2772 514,2821"/>
<polyline stroke="#17becf" points="84,2816 298,2771 514,2816"/>
<polyline stroke="#9467bd" points="84,2814 298,2769 514,2815"/>
<polyline stroke="#d62728" points="84,2813 298,2768 514,2813"/>
<polyline stroke="#2ca02c" points="84,2812 298,2767 514,2811"/>
<polyline stroke="#ff7f0e" points="84,2811 298,2765 514,2809"/>
<polyline stroke="#1f77b4" points="84,2741 298,2737 514,2756"/>
<rect x="692" y="2855" width="6" height="34" rx="3" fill="#eaeded"/>
<rect x="60" y="2855" width="10" height="12" rx="4" fill="#1f77b4"/><text x="76" y="2865" class="lg">Network In [avg: 3,593,377, max: 3,949,681] - i-0c2993cb3bdcc44a6 (kafka-consumer)</text>
<rect x="60" y="2873" width="10" height="12" rx="4" fill="#ff7f0e"/><text x="76" y="2883" class="lg">Network In [avg: 1,167,015, max: 2,646,130] - i-0cb2575595f27d778 (petclinic-test-ng-cd7e348a-Node)</text>
<rect x="60" y="2891" width="10" height="12" rx="4" fill="#2ca02c"/><text x="76" y="2901" class="lg">Network In [avg: 1,065,542, max: 2,537,228] - i-02154393235c90841 (petclinic-test-ng-cd7e348a-Node)</text>
<rect x="60" y="2908" width="10" height="12" rx="4" fill="#d62728"/><text x="76" y="2918" class="lg">Network In [avg: 995,521, max: 2,464,623] - i-043a6014c9f918a0c (MyNginxHost2)</text>
<rect x="23" y="2919" width="693" height="9" fill="#fff"/>
</svg>

<svg x="724" y="2655" width="692" height="273" viewBox="724 2655 692 273">
<rect x="724" y="2655" width="692" height="273" fill="#fff"/>
<text x="736" y="2677" class="pt">Network Out</text>
<circle cx="1402" cy="2666" r="1.6" class="dots"/><circle cx="1402" cy="2672" r="1.6" class="dots"/><circle cx="1402" cy="2678" r="1.6" class="dots"/>
<text x="739" y="2716" class="u">Bytes</text>
<line x1="784" y1="2737" x2="1387" y2="2737" class="g"/><line x1="784" y1="2779" x2="1387" y2="2779" class="g"/><line x1="784" y1="2821" x2="1387" y2="2821" class="ba"/>
<text x="736" y="2741" class="ax">2.399M</text><text x="736" y="2783" class="ax">1.231M</text><text x="738" y="2825" class="ax">62,803</text>
<text x="784" y="2844" class="ax" text-anchor="middle">18:35</text><text x="1000" y="2844" class="ax" text-anchor="middle">18:40</text><text x="1215" y="2844" class="ax" text-anchor="middle">18:45</text>
<polyline stroke="#17becf" points="786,2821 1000,2820 1215,2821"/>
<polyline stroke="#bcbd22" points="786,2819 1000,2819 1215,2819"/>
<polyline stroke="#e377c2" points="786,2818 1000,2818 1215,2818"/>
<polyline stroke="#9467bd" points="786,2815 1000,2816 1215,2815"/>
<polyline stroke="#8c564b" points="786,2812 1000,2811 1215,2811"/>
<polyline stroke="#2ca02c" points="786,2809 1000,2809 1215,2810"/>
<polyline stroke="#d62728" points="786,2811 1000,2810 1215,2810"/>
<polyline stroke="#ff7f0e" points="786,2792 1000,2788 1215,2782"/>
<polyline stroke="#1f77b4" points="786,2738 1000,2782 1215,2758"/>
<rect x="1393" y="2855" width="6" height="34" rx="3" fill="#eaeded"/>
<rect x="761" y="2855" width="10" height="12" rx="4" fill="#1f77b4"/><text x="777" y="2865" class="lg">Network Out [avg: 1,798,495, max: 2,399,443] - i-0003ab4bed0292601 (kafka-cluster2-server2)</text>
<rect x="761" y="2873" width="10" height="12" rx="4" fill="#ff7f0e"/><text x="777" y="2883" class="lg">Network Out [avg: 996,954, max: 1,163,113] - i-0e798df7dc12c02b5 (kafka-cluster1-server1)</text>
<rect x="761" y="2891" width="10" height="12" rx="4" fill="#2ca02c"/><text x="777" y="2901" class="lg">Network Out [avg: 353,636, max: 364,661] - i-0cb2575595f27d778 (petclinic-test-ng-cd7e348a-Node)</text>
<rect x="761" y="2908" width="10" height="12" rx="4" fill="#d62728"/><text x="777" y="2918" class="lg">Network Out [avg: 331,053, max: 346,133] - i-02154393235c90841 (petclinic-test-ng-cd7e348a-Node)</text>
<rect x="724" y="2919" width="692" height="9" fill="#fff"/>
</svg>
</svg>
</body></html>
